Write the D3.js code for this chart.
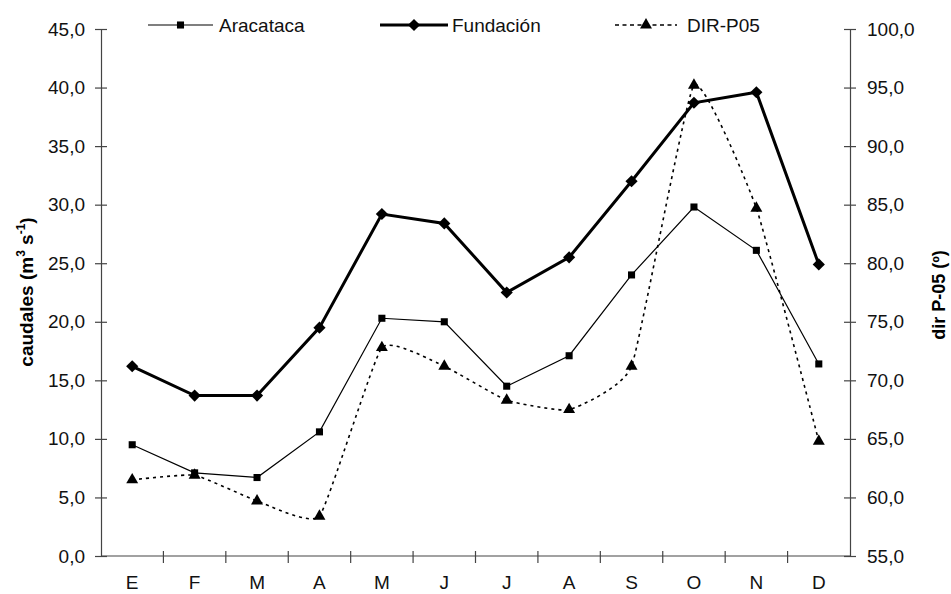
<!DOCTYPE html>
<html lang="es">
  <head>
    <meta charset="UTF-8" />
    <title>Caudales y dir P-05</title>
    <script src="https://d3js.org/d3.v7.min.js"></script>
    <style>
      body {
        margin: 0;
        background: #fff;
        font-family: "Liberation Sans", Arial, sans-serif;
      }
      .axis path,
      .axis line {
        stroke: #444;
        stroke-width: 1.2px;
      }
      .axis text {
        font-family: "Liberation Sans", Arial, sans-serif;
        font-size: 19px;
        fill: #111;
      }
    </style>
  </head>
  <body>
    <svg id="chart" width="951" height="594"></svg>

    <script>
      const months = ["E", "F", "M", "A", "M", "J", "J", "A", "S", "O", "N", "D"];
      const aracataca = [9.5, 7.1, 6.7, 10.6, 20.3, 20.0, 14.5, 17.1, 24.0, 29.8, 26.1, 16.4];
      const fundacion = [16.2, 13.7, 13.7, 19.5, 29.2, 28.4, 22.5, 25.5, 32.0, 38.7, 39.6, 24.9];
      const dirP05 = [61.5, 61.9, 59.7, 58.4, 72.8, 71.2, 68.3, 67.5, 71.2, 95.2, 84.7, 64.8];
      const leftTicks = [0, 5, 10, 15, 20, 25, 30, 35, 40, 45];
      const rightTicks = [55, 60, 65, 70, 75, 80, 85, 90, 95, 100];

      const svg = d3.select("#chart");
      const plotL = 101, plotR = 850, plotT = 29, plotB = 556;
      const fmt = (v) => v.toFixed(1).replace(".", ",");

      const x = d3
        .scaleBand()
        .domain(d3.range(months.length))
        .range([plotL, plotR]);
      const yL = d3.scaleLinear().domain([0, 45]).range([plotB, plotT]);
      const yR = d3.scaleLinear().domain([55, 100]).range([plotB, plotT]);
      const cx = (i) => x(i) + x.bandwidth() / 2;

      // axes
      const gl = svg
        .append("g")
        .attr("class", "axis")
        .attr("transform", `translate(${plotL},0)`)
        .call(d3.axisLeft(yL).tickValues(leftTicks).tickFormat(fmt).tickSizeInner(6).tickSizeOuter(0).tickPadding(10));
      gl.selectAll(".tick line").attr("x1", 6);

      const gr = svg
        .append("g")
        .attr("class", "axis")
        .attr("transform", `translate(${plotR},0)`)
        .call(d3.axisRight(yR).tickValues(rightTicks).tickFormat(fmt).tickSizeInner(6).tickSizeOuter(0).tickPadding(11));
      gr.selectAll(".tick line").attr("x1", -6);

      const gx = svg
        .append("g")
        .attr("class", "axis")
        .attr("transform", `translate(0,${plotB})`)
        .call(d3.axisBottom(x).tickFormat((i) => months[i]).tickSize(0).tickPadding(20));
      gx.select(".domain").attr("d", `M${plotL},0H${plotR}`);
      gx.selectAll(".boundary")
        .data(d3.range(1, months.length))
        .enter()
        .append("line")
        .attr("x1", (i) => x(i))
        .attr("x2", (i) => x(i))
        .attr("y1", -5)
        .attr("y2", 7);

      // series
      const lineL = d3.line().x((d, i) => cx(i)).y((d) => yL(d));
      const lineR = d3
        .line()
        .x((d, i) => cx(i))
        .y((d) => yR(d))
        .curve(d3.curveCardinal.tension(0.6));

      svg.append("path")
        .datum(dirP05)
        .attr("d", lineR)
        .attr("fill", "none")
        .attr("stroke", "#000")
        .attr("stroke-width", 1.6)
        .attr("stroke-dasharray", "3,4");

      svg.append("path")
        .datum(aracataca)
        .attr("d", lineL)
        .attr("fill", "none")
        .attr("stroke", "#000")
        .attr("stroke-width", 1.2);

      svg.append("path")
        .datum(fundacion)
        .attr("d", lineL)
        .attr("fill", "none")
        .attr("stroke", "#000")
        .attr("stroke-width", 3);

      const square = d3.symbol().type(d3.symbolSquare).size(50);
      const diamond = d3.symbol().type(d3.symbolSquare).size(74);
      const triangle = d3.symbol().type(d3.symbolTriangle).size(62);

      svg.selectAll(".sq")
        .data(aracataca)
        .enter()
        .append("path")
        .attr("d", square)
        .attr("transform", (d, i) => `translate(${cx(i)},${yL(d)})`);

      svg.selectAll(".dm")
        .data(fundacion)
        .enter()
        .append("path")
        .attr("d", diamond)
        .attr("transform", (d, i) => `translate(${cx(i)},${yL(d)}) rotate(45)`);

      svg.selectAll(".tr")
        .data(dirP05)
        .enter()
        .append("path")
        .attr("d", triangle)
        .attr("transform", (d, i) => `translate(${cx(i)},${yR(d)})`);

      // legend
      const legend = [
        { name: "Aracataca", x1: 148, x2: 213, tx: 219, w: 1.2, dash: null, sym: square, rot: 0 },
        { name: "Fundación", x1: 380, x2: 448, tx: 452, w: 3, dash: null, sym: diamond, rot: 45 },
        { name: "DIR-P05", x1: 615, x2: 677, tx: 687, w: 1.6, dash: "4,3.5", sym: triangle, rot: 0 },
      ];
      const ly = 25;
      legend.forEach((l) => {
        svg.append("line")
          .attr("x1", l.x1)
          .attr("x2", l.x2)
          .attr("y1", ly)
          .attr("y2", ly)
          .attr("stroke", "#000")
          .attr("stroke-width", l.w)
          .attr("stroke-dasharray", l.dash);
        svg.append("path")
          .attr("d", l.sym)
          .attr("transform", `translate(${(l.x1 + l.x2) / 2},${ly}) rotate(${l.rot})`);
        svg.append("text")
          .attr("x", l.tx)
          .attr("y", ly + 7)
          .style("font-size", "19px")
          .style("fill", "#111")
          .text(l.name);
      });

      // axis titles
      const tl = svg.append("text")
        .attr("transform", `translate(33,292) rotate(-90)`)
        .attr("text-anchor", "middle")
        .style("font-size", "19px")
        .style("font-weight", "bold");
      tl.append("tspan").text("caudales (m");
      tl.append("tspan").attr("dy", -8).style("font-size", "12px").text("3");
      tl.append("tspan").attr("dy", 8).text(" s");
      tl.append("tspan").attr("dy", -8).style("font-size", "12px").text("-1");
      tl.append("tspan").attr("dy", 8).text(")");

      svg.append("text")
        .attr("transform", `translate(945,295) rotate(-90)`)
        .attr("text-anchor", "middle")
        .style("font-size", "18px")
        .style("font-weight", "bold")
        .text("dir P-05 (º)");
    </script>
  </body>
</html>
